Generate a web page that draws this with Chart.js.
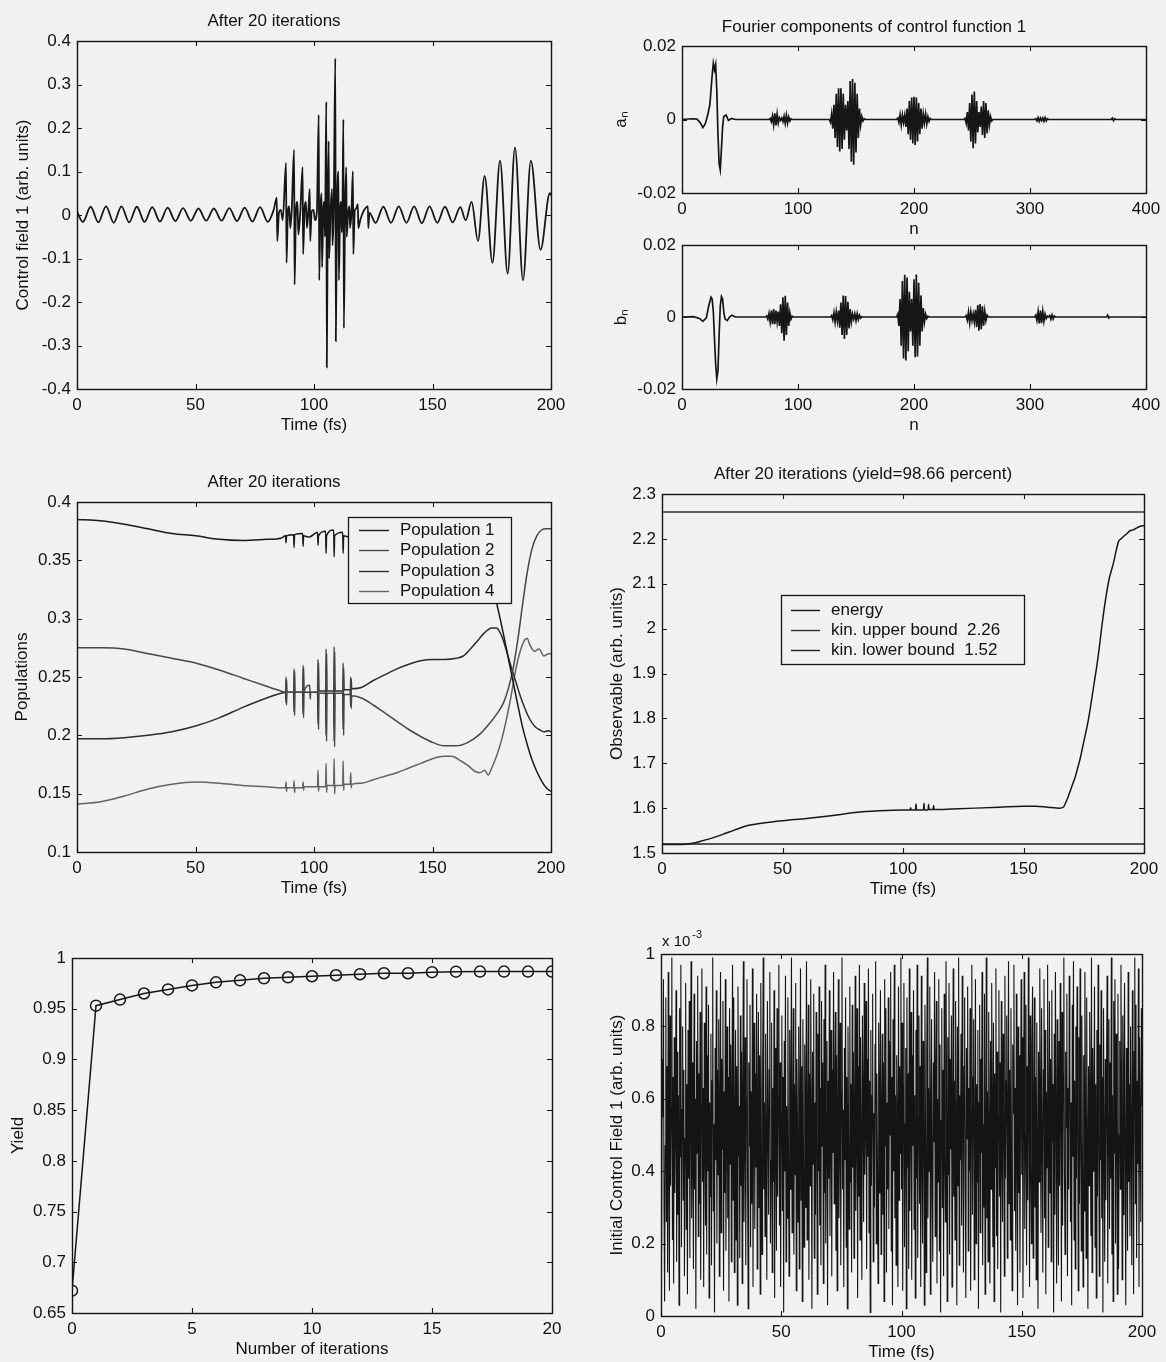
<!DOCTYPE html>
<html><head><meta charset="utf-8">
<script src="https://cdn.jsdelivr.net/npm/chart.js@4.4.1/dist/chart.umd.min.js"></script>
<style>
html,body{margin:0;padding:0;background:#f1f1ef;width:1166px;height:1362px;overflow:hidden;position:relative;}
canvas{position:absolute;}
</style></head><body>
<canvas id="c1"></canvas><canvas id="c2"></canvas><canvas id="c3"></canvas>
<canvas id="c4"></canvas><canvas id="c5"></canvas><canvas id="c6"></canvas><canvas id="c7"></canvas>
<script>
// ---------------- DATA ----------------
// Panel 1: control field after 20 iterations, [time fs, value]
const field1 = [[0,0.008],[2.5,-0.016],[5.75,0.019],[9,-0.017],[12.25,0.02],[15.5,-0.018],[18.75,0.02],[22,-0.017],[25.25,0.019],[28.5,-0.016],[31.75,0.018],[35,-0.015],[38.25,0.017],[41.5,-0.014],[44.75,0.016],[48,-0.013],[51.25,0.015],[54.5,-0.013],[57.75,0.015],[61,-0.013],[64.25,0.016],[67.5,-0.014],[70.75,0.017],[74,-0.015],[77.25,0.018],[80.5,-0.016],[83,0.012],
[84.3,0.04],[84.5,-0.06],[85.2,0.005],[86,0.012],[86.8,-0.012],
[88.2,0.12],[88.4,-0.11],[89,0.01],[89.5,0.02],[90,-0.03],[90.6,0.01],
[91.6,0.15],[91.8,-0.16],[92.4,0.01],[93,0.03],[93.4,-0.045],[94.2,0.005],
[95.2,0.11],[95.4,-0.09],[96,0.01],[96.6,0.03],[97,-0.03],[97.6,0.005],
[98.2,0.06],[98.4,-0.06],[99,0.008],[99.8,0.012],[100.4,-0.012],[101.2,0.006],
[102,0.23],[102.2,-0.15],[102.7,0.01],[103.2,0.05],[103.4,-0.12],[103.9,0.005],[104.4,0.03],[104.6,-0.05],
[105.2,0.26],[105.4,-0.35],[105.8,0.01],[106.2,0.17],[106.4,-0.1],[107,0.01],[107.6,0.06],[107.8,-0.07],[108.3,0.005],
[109,0.36],[109.2,-0.29],[109.7,0.01],[110.3,0.1],[110.5,-0.15],[111,0.005],[111.5,0.03],[111.7,-0.04],[112,0.005],
[112.4,0.22],[112.6,-0.26],[113.1,0.01],[113.6,0.11],[113.8,-0.05],[114.4,0.005],[115,0.02],[115.2,-0.03],[115.8,0.005],
[116.4,0.1],[116.6,-0.09],[117.2,0.01],[117.8,0.015],[118.5,0.025],[118.7,-0.03],[119.5,-0.012],
[121,0.01],[122.75,0.02],[122.9,-0.03],[123.4,0.005],[126,-0.018],[129.25,0.019],[132.5,-0.018],[135.75,0.02],[139,-0.018],[142.25,0.02],[145.5,-0.019],[148.75,0.02],[152,-0.018],[155.25,0.019],[158.5,-0.017],[161.75,0.018],[164,-0.012],[166.5,0.03],[169.2,-0.06],[172,0.09],[175.3,-0.11],[178.5,0.125],[181.7,-0.135],[184.8,0.155],[188.2,-0.15],[191.5,0.125],[195.6,-0.08],[199.5,0.05],[200,0.045]];
const field1XTicks = [0,50,100,150,200];
const field1YTicks = [-0.4,-0.3,-0.2,-0.1,0,0.1,0.2,0.3,0.4];

// Panels 2-3: Fourier components [n, value]
const aN = [[0,0],[8,0.0002],[13,0.0001],[16,-0.001],[18,-0.0022],[20,-0.0012],[22,0.001],[24,0.004],[25,0.008],[26,0.012],[27,0.0153],[28,0.0135],[29,0.015],[30,0.008],[31,-0.004],[32,-0.012],[33,-0.0137],[34,-0.008],[35,-0.002],[36,0.0008],[38,0.0012],[40,-0.0002],[43,0.0003],[46,0],[75,0],
[76,0.0003],[77,-0.0006],[78,0.001],[79,-0.0015],[80,0.0017],[81,-0.0016],[82,0.0015],[83,-0.001],[84,0.0005],[85,-0.0002],[86,0.0004],[87,-0.0006],[88,0.0009],[89,-0.0011],[90,0.0012],[91,-0.001],[92,0.0007],[93,-0.0004],[94,0.0002],[95,0],[127,0],
[128,-0.0008],[129,0.0015],[130,-0.0025],[131,0.004],[132,-0.005],[133,0.007],[134,-0.0075],[135,0.0085],[136,-0.0087],[137,0.0085],[138,-0.008],[139,0.007],[140,-0.0055],[141,0.004],[142,-0.003],[143,0.005],[144,-0.008],[145,0.0105],[146,-0.0115],[147,0.011],[148,-0.0123],[149,0.01],[150,-0.009],[151,0.007],[152,-0.005],[153,0.003],[154,-0.0015],[155,0.0008],[156,-0.0004],[157,0.0002],[158,0],[185,0],
[186,0.0004],[187,-0.0008],[188,0.0013],[189,-0.0015],[190,0.0012],[191,-0.0008],[192,0.0012],[193,-0.002],[194,0.003],[195,-0.004],[196,0.005],[197,-0.0055],[198,0.006],[199,-0.0065],[200,0.0062],[201,-0.0069],[202,0.006],[203,-0.006],[204,0.0045],[205,-0.004],[206,0.003],[207,-0.0025],[208,0.0015],[209,-0.001],[210,0.0015],[211,-0.0012],[212,0.0008],[213,-0.0005],[214,0.0003],[215,0],[243,0],
[244,0.0003],[245,-0.001],[246,0.002],[247,-0.003],[248,0.0045],[249,-0.006],[250,0.0068],[251,-0.0078],[252,0.0076],[253,-0.0065],[254,0.005],[255,-0.0035],[256,0.002],[257,-0.002],[258,0.0035],[259,-0.0042],[260,0.005],[261,-0.005],[262,0.0045],[263,-0.0038],[264,0.0025],[265,-0.0015],[266,0.0008],[267,-0.0004],[268,0],[304,0],
[305,0.0002],[306,-0.0004],[307,0.0005],[308,-0.0005],[309,0.0004],[310,-0.0003],[311,0.0004],[312,-0.0005],[313,0.0005],[314,-0.0004],[315,0.0002],[316,0],[370,0],[371,0.0004],[372,-0.0003],[373,0.0002],[374,0],[400,0]];
const bN = [[0,0],[10,0.0001],[15,-0.0004],[18,-0.0012],[21,-0.0002],[23,0.003],[25,0.0055],[26,0.005],[27,0.0015],[28,-0.006],[29,-0.013],[30,-0.0172],[31,-0.015],[32,-0.005],[33,0.003],[34,0.0057],[35,0.005],[36,0.0015],[37,-0.0005],[39,-0.001],[41,0],[43,0.0005],[46,0],[72,0],
[73,0.0003],[74,-0.0006],[75,0.001],[76,-0.0014],[77,0.0018],[78,-0.002],[79,0.0022],[80,-0.002],[81,0.0018],[82,-0.0014],[83,0.0015],[84,-0.0025],[85,0.0035],[86,-0.0045],[87,0.0055],[88,-0.0066],[89,0.0059],[90,-0.005],[91,0.004],[92,-0.0025],[93,0.0012],[94,-0.0006],[95,0.0002],[96,0],[128,0],
[129,0.0004],[130,-0.0008],[131,0.0012],[132,-0.0015],[133,0.0014],[134,-0.0012],[135,0.0018],[136,-0.003],[137,0.004],[138,-0.005],[139,0.006],[140,-0.0061],[141,0.0058],[142,-0.005],[143,0.0042],[144,-0.0032],[145,0.0022],[146,-0.0014],[147,0.0008],[148,-0.0006],[149,0.0009],[150,-0.001],[151,0.0009],[152,-0.0007],[153,0.0005],[154,-0.0003],[155,0.0001],[156,0],[185,0],
[186,0.0008],[187,-0.0025],[188,0.005],[189,-0.008],[190,0.01],[191,-0.0115],[192,0.0117],[193,-0.0121],[194,0.011],[195,-0.0095],[196,0.007],[197,-0.004],[198,0.005],[199,-0.008],[200,0.0105],[201,-0.0112],[202,0.0118],[203,-0.011],[204,0.0095],[205,-0.008],[206,0.006],[207,-0.004],[208,0.0025],[209,-0.0014],[210,0.0008],[211,-0.0004],[212,0.0002],[213,0],[244,0],
[245,0.0004],[246,-0.0009],[247,0.0014],[248,-0.0016],[249,0.0014],[250,-0.001],[251,0.0009],[252,-0.0014],[253,0.002],[254,-0.0028],[255,0.0033],[256,-0.0038],[257,0.0036],[258,-0.0034],[259,0.003],[260,-0.0024],[261,0.0016],[262,-0.001],[263,0.0005],[264,0],[304,0],
[305,0.0005],[306,-0.001],[307,0.0015],[308,-0.0018],[309,0.0018],[310,-0.0017],[311,0.0016],[312,-0.0012],[313,0.0008],[314,-0.0004],[315,0.0002],[316,0],[317,0.0004],[318,-0.0006],[319,0.0006],[320,-0.0005],[321,0.0003],[322,0],[366,0],[367,0.0005],[368,-0.0003],[369,0],[400,0]];
const fourierXTicks = [0,100,200,300,400];
const fourierYTicks = [-0.02,0,0.02];

// Panel 4: populations [time fs, population]
const pop1 = [[0,0.385],[10,0.384],[20,0.381],[30,0.377],[40,0.373],[50,0.371],[60,0.368],[70,0.367],[80,0.368],[86,0.369],[88,0.371],[88.2,0.365],[88.4,0.371],[91.4,0.372],[91.6,0.361],[91.8,0.372],[95.2,0.373],[95.4,0.362],[95.6,0.371],[98,0.37],[101.5,0.374],[101.7,0.363],[101.9,0.371],[104.9,0.375],[105.1,0.356],[105.3,0.371],[108.3,0.376],[108.5,0.353],[108.7,0.371],[112.1,0.374],[112.3,0.356],[112.5,0.371],[115,0.37],[120,0.37],[130,0.369],[140,0.369],[150,0.367],[160,0.365],[166,0.36],[170,0.352],[173,0.34],[176,0.322],[178,0.305],[180,0.286],[182,0.266],[184,0.246],[186,0.226],[188,0.207],[190,0.192],[192,0.179],[194,0.169],[196,0.161],[198,0.155],[200,0.152]];
const pop2 = [[0,0.275],[10,0.275],[20,0.274],[30,0.27],[40,0.266],[50,0.262],[60,0.256],[70,0.249],[80,0.242],[86,0.238],[88,0.237],[88.2,0.25],[88.4,0.226],[88.6,0.237],[91.4,0.237],[91.6,0.257],[91.8,0.217],[92,0.237],[95.2,0.237],[95.4,0.26],[95.6,0.215],[95.8,0.237],[98.2,0.243],[98.4,0.231],[98.6,0.237],[101.5,0.237],[101.7,0.265],[101.9,0.205],[102.1,0.236],[104.9,0.236],[105.1,0.274],[105.3,0.195],[105.5,0.236],[108.3,0.236],[108.5,0.276],[108.7,0.19],[108.9,0.236],[112.1,0.236],[112.3,0.262],[112.5,0.2],[112.7,0.235],[115.3,0.235],[115.5,0.25],[115.7,0.223],[115.9,0.234],[120,0.232],[125,0.226],[130,0.219],[135,0.212],[140,0.205],[145,0.199],[150,0.194],[155,0.191],[160,0.191],[165,0.194],[170,0.201],[174,0.21],[177,0.218],[180,0.228],[182,0.24],[184,0.257],[186,0.282],[188,0.312],[190,0.34],[192,0.36],[194,0.371],[196,0.376],[198,0.377],[200,0.377]];
const pop3 = [[0,0.197],[10,0.197],[20,0.198],[30,0.2],[40,0.203],[50,0.208],[60,0.215],[70,0.224],[80,0.232],[86,0.236],[88,0.237],[88.2,0.228],[88.4,0.248],[88.6,0.237],[91.4,0.237],[91.6,0.22],[91.8,0.255],[92,0.237],[95.2,0.237],[95.4,0.218],[95.6,0.258],[95.8,0.237],[101.5,0.237],[101.7,0.21],[101.9,0.262],[102.1,0.238],[104.9,0.238],[105.1,0.2],[105.3,0.27],[105.5,0.238],[108.3,0.238],[108.5,0.195],[108.7,0.272],[108.9,0.238],[112.1,0.238],[112.3,0.205],[112.5,0.258],[112.7,0.239],[115.3,0.239],[115.5,0.225],[115.7,0.248],[115.9,0.24],[120,0.241],[125,0.247],[130,0.252],[135,0.257],[140,0.261],[145,0.264],[150,0.265],[155,0.265],[160,0.266],[163,0.268],[166,0.274],[169,0.281],[172,0.288],[175,0.292],[177,0.292],[179,0.286],[181,0.274],[183,0.26],[185,0.247],[187,0.234],[189,0.223],[191,0.214],[193,0.208],[195,0.205],[197,0.203],[199,0.204],[200,0.203]];
const pop4 = [[0,0.141],[10,0.143],[20,0.148],[30,0.154],[40,0.158],[50,0.16],[60,0.159],[70,0.157],[80,0.156],[86,0.155],[88,0.155],[88.2,0.16],[88.4,0.152],[88.6,0.155],[91.4,0.155],[91.6,0.161],[91.8,0.151],[92,0.155],[95.2,0.155],[95.4,0.16],[95.6,0.153],[95.8,0.156],[101.5,0.156],[101.7,0.17],[101.9,0.152],[102.1,0.156],[104.9,0.156],[105.1,0.176],[105.3,0.151],[105.5,0.157],[108.3,0.157],[108.5,0.18],[108.7,0.15],[108.9,0.157],[112.1,0.157],[112.3,0.178],[112.5,0.153],[112.7,0.158],[115.3,0.158],[115.5,0.168],[115.7,0.155],[115.9,0.158],[120,0.159],[125,0.162],[130,0.165],[135,0.168],[140,0.172],[145,0.176],[150,0.18],[155,0.182],[158,0.182],[162,0.178],[165,0.174],[168,0.169],[170,0.168],[172,0.17],[173.5,0.166],[175,0.172],[177,0.182],[179,0.195],[181,0.212],[183,0.232],[185,0.255],[187,0.272],[189,0.282],[190,0.283],[191,0.278],[193,0.272],[195,0.274],[197,0.268],[199,0.27],[200,0.27]];
const popLabels = ['Population 1','Population 2','Population 3','Population 4'];
const popYTicks = [0.1,0.15,0.2,0.25,0.3,0.35,0.4];
const timeTicks = [0,50,100,150,200];

// Panel 5: observable [time fs, energy]
const energy = [[0,1.519],[8,1.519],[12,1.521],[16,1.526],[20,1.532],[25,1.541],[30,1.551],[36,1.562],[42,1.567],[50,1.572],[60,1.577],[70,1.583],[80,1.59],[90,1.594],[100,1.596],[103,1.596],[103.2,1.601],[103.4,1.596],[105.2,1.596],[105.4,1.609],[105.6,1.596],[108.5,1.596],[108.7,1.611],[108.9,1.596],[110.4,1.596],[110.6,1.608],[110.8,1.597],[112.5,1.597],[112.7,1.606],[112.9,1.597],[115,1.597],[120,1.598],[130,1.6],[140,1.602],[150,1.604],[155,1.604],[160,1.602],[165,1.6],[166.5,1.602],[167.5,1.612],[168.5,1.625],[169.5,1.64],[170.5,1.655],[171.5,1.67],[172.5,1.69],[173.5,1.71],[174.5,1.735],[175.5,1.76],[176.5,1.785],[177.5,1.815],[178.5,1.85],[179.5,1.885],[180.5,1.92],[181.5,1.96],[182.5,2.005],[183.5,2.045],[184.5,2.08],[185.5,2.11],[186.5,2.13],[187.5,2.15],[188.5,2.175],[189.5,2.195],[190.5,2.2],[191.8,2.207],[193,2.212],[194.1,2.218],[195.5,2.22],[197.2,2.225],[199.5,2.229],[200,2.229]];
const upperBound = 2.26;
const lowerBound = 1.52;
const obsYTicks = [1.5,1.6,1.7,1.8,1.9,2,2.1,2.2,2.3];

// Panel 6: yield per iteration
const iterations = [0,1,2,3,4,5,6,7,8,9,10,11,12,13,14,15,16,17,18,19,20];
const yieldVals = [0.672,0.953,0.959,0.965,0.969,0.973,0.976,0.978,0.98,0.981,0.982,0.983,0.984,0.985,0.985,0.986,0.9865,0.9866,0.9866,0.9866,0.9866];
const iterXTicks = [0,5,10,15,20];
const yieldYTicks = [0.65,0.7,0.75,0.8,0.85,0.9,0.95,1];

// Panel 7: initial control field (units of 1e-3), sampled every 0.25 fs
const initFieldDt = 0.25;
const initField = [
0.62,0.18,0.71,0.55,0.93,0.30,0.04,0.47,0.88,0.26,0.69,0.12,0.95,0.41,0.07,0.83,0.36,0.58,0.99,0.21,
0.66,0.09,0.77,0.34,0.52,0.90,0.15,0.73,0.28,0.61,0.03,0.85,0.44,0.97,0.19,0.57,0.80,0.32,0.68,0.11,
0.49,0.92,0.24,0.64,0.06,0.79,0.38,0.87,0.16,0.55,0.98,0.27,0.70,0.42,0.13,0.89,0.35,0.60,0.02,0.76,
0.45,0.94,0.22,0.67,0.31,0.84,0.10,0.58,0.96,0.37,0.63,0.08,0.81,0.50,0.25,0.91,0.17,0.72,0.40,0.86,
0.05,0.59,0.33,0.78,0.14,0.65,0.99,0.29,0.53,0.01,0.74,0.43,0.90,0.20,0.68,0.39,0.82,0.11,0.56,0.95,
0.23,0.71,0.46,0.87,0.07,0.62,0.34,0.93,0.18,0.51,0.80,0.27,0.66,0.04,0.85,0.42,0.75,0.15,0.60,0.97,
0.32,0.88,0.12,0.54,0.79,0.21,0.69,0.03,0.91,0.44,0.58,0.16,0.83,0.36,0.73,0.09,0.64,0.98,0.26,0.50,
0.77,0.14,0.60,0.93,0.38,0.02,0.70,0.47,0.86,0.19,0.62,0.31,0.96,0.08,0.55,0.81,0.24,0.67,0.41,0.89,
0.13,0.57,0.84,0.30,0.72,0.06,0.92,0.48,0.17,0.65,0.99,0.35,0.59,0.22,0.78,0.45,0.10,0.87,0.53,0.28,
0.68,0.95,0.20,0.43,0.81,0.12,0.63,0.37,0.90,0.05,0.74,0.52,0.18,0.85,0.33,0.61,0.97,0.25,0.70,0.08,
0.56,0.83,0.29,0.66,0.01,0.76,0.40,0.94,0.15,0.58,0.27,0.88,0.46,0.11,0.79,0.35,0.62,0.99,0.23,0.49,
0.85,0.17,0.64,0.39,0.92,0.07,0.71,0.54,0.26,0.80,0.13,0.57,0.96,0.32,0.69,0.04,0.82,0.44,0.19,0.75,
0.30,0.61,0.98,0.21,0.48,0.86,0.10,0.67,0.36,0.93,0.55,0.02,0.73,0.42,0.89,0.16,0.59,0.28,0.84,0.51,
0.06,0.78,0.40,0.91,0.25,0.63,0.14,0.87,0.47,0.70,0.09,0.82,0.34,0.97,0.20,0.56,0.76,0.03,0.65,0.38,
0.90,0.22,0.53,0.79,0.11,0.68,0.45,0.95,0.31,0.60,0.84,0.18,0.72,0.07,0.58,0.93,0.27,0.49,0.81,0.14,
0.62,0.99,0.35,0.57,0.08,0.74,0.43,0.88,0.19,0.66,0.02,0.80,0.50,0.24,0.91,0.37,0.64,0.12,0.86,0.41,
0.73,0.16,0.58,0.94,0.29,0.52,0.85,0.05,0.69,0.33,0.97,0.21,0.77,0.46,0.10,0.83,0.60,0.26,0.92,0.39,
0.54,0.87,0.13,0.71,0.44,0.96,0.23,0.65,0.01,0.79,0.36,0.61,0.89,0.15,0.56,0.30,0.75,0.98,0.20,0.67,
0.42,0.09,0.81,0.34,0.63,0.90,0.17,0.53,0.78,0.28,0.70,0.04,0.93,0.47,0.85,0.12,0.59,0.35,0.88,0.24,
0.76,0.50,0.95,0.18,0.66,0.03,0.82,0.40,0.97,0.27,0.61,0.14,0.72,0.55,0.08,0.91,0.32,0.69,0.45,0.99,
0.35,0.81,0.07,0.64,0.92,0.19,0.53,0.74,0.02,0.88,0.41,0.67,0.13,0.96,0.29,0.58,0.84,0.10,0.72,0.47,
0.90,0.24,0.61,0.05,0.79,0.38,0.97,0.16,0.55,0.83,0.31,0.69,0.08,0.94,0.44,0.20,0.76,0.59,0.03,0.86,
0.50,0.12,0.73,0.99,0.27,0.63,0.40,0.91,0.06,0.57,0.82,0.34,0.15,0.70,0.48,0.95,0.22,0.66,0.87,0.09,
0.60,0.37,0.93,0.18,0.75,0.01,0.54,0.85,0.30,0.68,0.11,0.89,0.45,0.26,0.98,0.62,0.04,0.77,0.39,0.92,
0.17,0.71,0.46,0.83,0.08,0.58,0.96,0.33,0.65,0.21,0.87,0.52,0.03,0.80,0.36,0.99,0.14,0.61,0.43,0.78,
0.25,0.94,0.56,0.12,0.69,0.88,0.32,0.05,0.74,0.49,0.91,0.18,0.63,0.40,0.85,0.07,0.57,0.97,0.28,0.66,
0.82,0.10,0.48,0.93,0.20,0.64,0.37,0.79,0.02,0.59,0.86,0.23,0.71,0.45,0.95,0.14,0.53,0.30,0.89,0.06,
0.44,0.99,0.27,0.62,0.15,0.84,0.51,0.09,0.76,0.35,0.92,0.58,0.19,0.81,0.04,0.67,0.41,0.96,0.22,0.73,
0.13,0.55,0.90,0.33,0.70,0.01,0.87,0.47,0.26,0.78,0.60,0.11,0.94,0.38,0.65,0.83,0.16,0.52,0.98,0.31,
0.68,0.21,0.85,0.42,0.07,0.75,0.56,0.97,0.29,0.63,0.18,0.89,0.46,0.03,0.80,0.34,0.72,0.12,0.59,0.93,
0.39,0.77,0.05,0.61,0.95,0.24,0.50,0.86,0.14,0.69,0.32,0.99,0.57,0.08,0.83,0.43,0.20,0.74,0.91,0.16,
0.54,0.88,0.30,0.66,0.10,0.81,0.45,0.02,0.73,0.37,0.96,0.60,0.23,0.85,0.49,0.12,0.68,0.93,0.27,0.79,
0.06,0.62,0.41,0.97,0.19,0.53,0.87,0.34,0.71,0.15,0.90,0.48,0.64,0.01,0.78,0.28,0.95,0.56,0.09,0.82,
0.47,0.14,0.76,0.36,0.92,0.58,0.04,0.84,0.25,0.67,0.99,0.40,0.17,0.73,0.52,0.89,0.11,0.63,0.35,0.94,
0.70,0.26,0.59,0.03,0.86,0.44,0.98,0.21,0.65,0.13,0.80,0.38,0.91,0.55,0.07,0.77,0.31,0.96,0.50,0.18,
0.83,0.42,0.08,0.72,0.29,0.95,0.61,0.16,0.88,0.46,0.02,0.69,0.36,0.84,0.57,0.22,0.99,0.12,0.74,0.40,
0.58,0.91,0.19,0.64,0.05,0.79,0.33,0.97,0.52,0.11,0.75,0.43,0.90,0.27,0.66,0.01,0.85,0.48,0.15,0.71,
0.32,0.67,0.94,0.09,0.56,0.82,0.24,0.70,0.38,0.99,0.17,0.61,0.04,0.87,0.45,0.93,0.20,0.78,0.55,0.06,
0.89,0.13,0.50,0.76,0.35,0.97,0.62,0.10,0.83,0.28,0.68,0.92,0.41,0.03,0.74,0.53,0.18,0.95,0.37,0.64,
0.22,0.80,0.47,0.14,0.90,0.59,0.06,0.73,0.99,0.31,0.86,0.16,0.65,0.42,0.96,0.08,0.77,0.51,0.26,0.85,
0.58];
const initYTicks = [0,0.2,0.4,0.6,0.8,1];
const initExponent = '-3';

// ---------------- RENDERING ----------------
const PAPER = '#f1f1ef';
const INK = '#161616';
const TXT = '#111111';
const FONT = '"Liberation Sans", Arial, Helvetica, sans-serif';
Chart.defaults.font.family = FONT;
Chart.defaults.font.size = 17;
Chart.defaults.color = TXT;

const fmt = v => String(Number(Number(v).toFixed(6)));
const toXY = pairs => pairs.map(p => ({x: p[0], y: p[1]}));

const matlabAxes = {
  id: 'matlabAxes',
  afterDatasetsDraw(chart, args, opts) {
    const {ctx, chartArea: a} = chart;
    const xs = chart.scales.x, ys = chart.scales.y;
    ctx.save();
    ctx.strokeStyle = INK;
    ctx.lineWidth = 1.1;
    ctx.beginPath();
    const tl = 5;
    for (const t of xs.ticks) {
      const p = Math.round(xs.getPixelForValue(t.value)) + 0.5;
      ctx.moveTo(p, a.bottom); ctx.lineTo(p, a.bottom - tl);
      ctx.moveTo(p, a.top); ctx.lineTo(p, a.top + tl);
    }
    for (const t of ys.ticks) {
      const p = Math.round(ys.getPixelForValue(t.value)) + 0.5;
      ctx.moveTo(a.left, p); ctx.lineTo(a.left + tl, p);
      ctx.moveTo(a.right, p); ctx.lineTo(a.right - tl, p);
    }
    ctx.stroke();
    ctx.lineWidth = 1.4;
    ctx.strokeRect(Math.round(a.left) + 0.5, Math.round(a.top) + 0.5, Math.round(a.right - a.left), Math.round(a.bottom - a.top));
    const lg = opts.legend;
    if (lg && lg.width) {
      const x0 = Math.round(a.left + lg.left), y0 = Math.round(a.top + lg.top);
      ctx.fillStyle = PAPER;
      ctx.fillRect(x0, y0, lg.width, lg.height);
      ctx.lineWidth = 1.3; ctx.strokeStyle = INK;
      ctx.strokeRect(x0 + 0.5, y0 + 0.5, lg.width, lg.height);
      ctx.font = '17px ' + FONT;
      ctx.textBaseline = 'middle'; ctx.textAlign = 'left';
      chart.data.datasets.forEach((ds, i) => {
        const y = Math.round(y0 + lg.rowTop + i * lg.rowGap) + 0.5;
        ctx.strokeStyle = ds.borderColor; ctx.lineWidth = 1.4;
        ctx.beginPath(); ctx.moveTo(x0 + lg.lineX0, y); ctx.lineTo(x0 + lg.lineX1, y); ctx.stroke();
        ctx.fillStyle = TXT;
        ctx.fillText(ds.label, x0 + lg.textX, y);
      });
    }
    if (opts.exponent) {
      ctx.fillStyle = TXT; ctx.textBaseline = 'alphabetic'; ctx.textAlign = 'left';
      ctx.font = '15px ' + FONT;
      const base = 'x 10';
      ctx.fillText(base, a.left + 1, a.top - 8);
      const w = ctx.measureText(base).width;
      ctx.font = '11px ' + FONT;
      ctx.fillText(opts.exponent, a.left + 3 + w, a.top - 16);
    }
    ctx.restore();
  }
};

function panel(id, box, o) {
  const PL = 80, PT = 45, PR = 80, PB = 55;
  const cv = document.getElementById(id);
  cv.width = box.R - box.L + PL + PR;
  cv.height = box.B - box.T + PT + PB;
  cv.style.left = (box.L - PL) + 'px';
  cv.style.top = (box.T - PT) + 'px';
  const titleTop = PT - (o.titleGap || 20) - 10.2;
  return new Chart(cv, {
    type: 'line',
    data: {datasets: o.datasets},
    options: {
      responsive: false, animation: false, events: [],
      layout: {padding: {left: 0, right: PR, top: o.title ? titleTop : PT, bottom: 0}},
      plugins: {
        legend: {display: false}, tooltip: {enabled: false},
        title: {display: !!o.title, text: o.title || '', color: TXT,
                font: {size: 17, weight: 'normal', lineHeight: 1.2},
                padding: {top: 0, bottom: PT - titleTop - 20.4}},
        matlabAxes: {legend: o.legend || {}, exponent: o.exponent || ''}
      },
      scales: {
        x: {type: 'linear', min: o.xMin, max: o.xMax,
            afterBuildTicks: s => { s.ticks = o.xTicks.map(v => ({value: v})); },
            ticks: {autoSkip: false, maxRotation: 0, padding: 6, callback: fmt},
            grid: {display: false, drawTicks: false}, border: {display: false},
            title: {display: true, text: o.xTitle, padding: {top: 0, bottom: o.xTitlePad || 8.8}},
            afterFit: s => { s.height = PB; }},
        y: {type: 'linear', min: o.yMin, max: o.yMax,
            afterBuildTicks: s => { s.ticks = o.yTicks.map(v => ({value: v})); },
            ticks: {autoSkip: false, padding: 6, callback: fmt},
            grid: {display: false, drawTicks: false}, border: {display: false},
            title: {display: true, text: o.yTitle, padding: {top: o.yTitlePad, bottom: 0}},
            afterFit: s => { s.width = PL; }}
      }
    },
    plugins: [matlabAxes]
  });
}

const lineDS = (label, pts, color, width, smooth) => ({
  label, data: pts, borderColor: color, borderWidth: width, pointRadius: 0,
  fill: false, tension: 0, cubicInterpolationMode: smooth ? 'monotone' : 'default'
});

// Panel 1
panel('c1', {L: 77, T: 41, R: 551, B: 389}, {
  title: 'After 20 iterations', xTitle: 'Time (fs)', yTitle: 'Control field 1 (arb. units)', yTitlePad: 15.8,
  xMin: 0, xMax: 200, yMin: -0.4, yMax: 0.4, xTicks: field1XTicks, yTicks: field1YTicks,
  datasets: [lineDS('Control field 1', toXY(field1), INK, 1.8, true)]
});
// Panel 2
panel('c2', {L: 682, T: 46, R: 1146, B: 193}, {
  title: 'Fourier components of control function 1', titleGap: 19, xTitle: 'n', yTitle: 'a\u2099', yTitlePad: 8.8,
  xMin: 0, xMax: 400, yMin: -0.02, yMax: 0.02, xTicks: fourierXTicks, yTicks: fourierYTicks,
  datasets: [lineDS('a_n', toXY(aN), INK, 1.7, false)]
});
// Panel 3
panel('c3', {L: 682, T: 245, R: 1146, B: 389}, {
  xTitle: 'n', yTitle: 'b\u2099', yTitlePad: 8.8,
  xMin: 0, xMax: 400, yMin: -0.02, yMax: 0.02, xTicks: fourierXTicks, yTicks: fourierYTicks,
  datasets: [lineDS('b_n', toXY(bN), INK, 1.7, false)]
});
// Panel 4
panel('c4', {L: 77, T: 502, R: 551, B: 852}, {
  title: 'After 20 iterations', xTitle: 'Time (fs)', yTitle: 'Populations', yTitlePad: 14.8,
  xMin: 0, xMax: 200, yMin: 0.1, yMax: 0.4, xTicks: timeTicks, yTicks: popYTicks,
  legend: {left: 271, top: 15, width: 163, height: 86, rowTop: 13, rowGap: 20.3, lineX0: 11, lineX1: 41, textX: 52},
  datasets: [
    lineDS(popLabels[0], toXY(pop1), '#1a1a1a', 1.5, true),
    lineDS(popLabels[1], toXY(pop2), '#474747', 1.5, true),
    lineDS(popLabels[2], toXY(pop3), '#2c2c2c', 1.5, true),
    lineDS(popLabels[3], toXY(pop4), '#636363', 1.5, true)
  ]
});
// Panel 5
panel('c5', {L: 662, T: 494, R: 1144, B: 853}, {
  title: 'After 20 iterations (yield=98.66 percent)', xTitle: 'Time (fs)', yTitle: 'Observable (arb. units)', yTitlePad: 24.8,
  xMin: 0, xMax: 200, yMin: 1.5, yMax: 2.3, xTicks: timeTicks, yTicks: obsYTicks,
  legend: {left: 119, top: 101, width: 243, height: 69, rowTop: 15, rowGap: 20, lineX0: 10, lineX1: 39, textX: 50},
  datasets: [
    lineDS('energy', toXY(energy), '#161616', 1.5, true),
    lineDS('kin. upper bound  ' + upperBound.toFixed(2), [{x: 0, y: upperBound}, {x: 200, y: upperBound}], '#303030', 1.5, false),
    lineDS('kin. lower bound  ' + lowerBound.toFixed(2), [{x: 0, y: lowerBound}, {x: 200, y: lowerBound}], '#222222', 1.5, false)
  ]
});
// Panel 6
panel('c6', {L: 72, T: 958, R: 552, B: 1313}, {
  xTitle: 'Number of iterations', yTitle: 'Yield', yTitlePad: 15.8,
  xMin: 0, xMax: 20, yMin: 0.65, yMax: 1, xTicks: iterXTicks, yTicks: yieldYTicks,
  datasets: [{
    label: 'Yield', data: iterations.map((it, i) => ({x: it, y: yieldVals[i]})),
    borderColor: INK, borderWidth: 1.5, tension: 0, fill: false,
    pointRadius: 5.5, pointStyle: 'circle', pointBackgroundColor: 'rgba(0,0,0,0)',
    pointBorderColor: INK, pointBorderWidth: 1.5
  }]
});
// Panel 7
panel('c7', {L: 661, T: 954, R: 1142, B: 1316}, {
  xTitle: 'Time (fs)', yTitle: 'Initial Control Field 1 (arb. units)', yTitlePad: 25.8,
  xMin: 0, xMax: 200, yMin: 0, yMax: 1, xTicks: timeTicks, yTicks: initYTicks,
  exponent: initExponent,
  datasets: [lineDS('Initial field', initField.map((v, i) => ({x: i * initFieldDt, y: v})), '#141414', 1.1, false)]
});
</script>
</body></html>
